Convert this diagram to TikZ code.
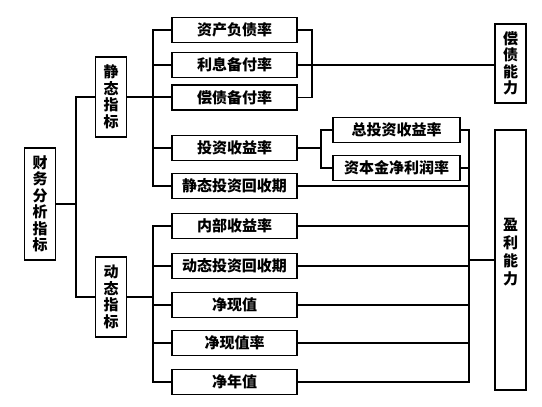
\documentclass[tikz,border=0pt]{standalone}
\usepackage{fontspec}
\newfontfamily\cjk{Noto Sans CJK SC}
\begin{document}
\begin{tikzpicture}[x=1pt,y=-1pt,
  box/.style={draw,line width=1.6pt,inner sep=0pt,font=\cjk\bfseries\fontsize{15}{16.5}\selectfont},
  hbox/.style={box,minimum width=125pt,minimum height=25pt},
  vbox/.style={box,align=center,minimum width=31pt},
  conn/.style={line width=1.1pt}]
\useasboundingbox (0,0) rectangle (542,407);
% left tree
\node[vbox,minimum height=112pt] (cw) at (40,204) {财\\务\\分\\析\\指\\标};
\node[vbox,minimum height=80pt] (jt) at (111,97) {静\\态\\指\\标};
\node[vbox,minimum height=80pt] (dt) at (111,297) {动\\态\\指\\标};
% static boxes
\node[hbox] (s1) at (234.5,30) {资产负债率};
\node[hbox] (s2) at (234.5,65) {利息备付率};
\node[hbox] (s3) at (234.5,97.5) {偿债备付率};
\node[hbox] (s4) at (234.5,148) {投资收益率};
\node[hbox] (s5) at (234.5,186) {静态投资回收期};
% dynamic boxes
\node[hbox] (d1) at (234.5,226) {内部收益率};
\node[hbox] (d2) at (234.5,266) {动态投资回收期};
\node[hbox] (d3) at (234.5,305) {净现值};
\node[hbox] (d4) at (234.5,343) {净现值率};
\node[hbox] (d5) at (234.5,382) {净年值};
% sub boxes
\node[hbox,minimum width=127pt] (t1) at (396.5,130) {总投资收益率};
\node[hbox,minimum width=127pt] (t2) at (396.5,168) {资本金净利润率};
% right boxes
\node[vbox,minimum height=79pt] (cz) at (510.5,63.5) {偿\\债\\能\\力};
\node[vbox,minimum height=260pt] (yl) at (510.5,260) {};
\node[font=\cjk\bfseries\fontsize{15}{18}\selectfont,align=center,inner sep=0pt] (ylt) at (510.5,252) {盈\\利\\能\\力};
% bus coordinates
\coordinate (tk) at (76,0);
\coordinate (sb) at (153,0);
\coordinate (rb) at (312,0);
\coordinate (ib) at (321,0);
\coordinate (pb) at (469,0);
% connectors left
\draw[conn] (cw.east) -- (cw.east -| tk);
\draw[conn] (jt.west) -| (tk |- dt.west) -- (dt.west);
\draw[conn] (jt.east) -- (jt.east -| s3.west);
\draw[conn] (s1.west) -- (s1.west -| sb) |- (s5.west);
\draw[conn] (s2.west) -- (s2.west -| sb);
\draw[conn] (s4.west) -- (s4.west -| sb);
\draw[conn] (dt.east) -- (dt.east -| sb);
\draw[conn] (d1.west) -- (d1.west -| sb) |- (d5.west);
\draw[conn] (d2.west) -- (d2.west -| sb);
\draw[conn] (d3.west) -- (d3.west -| sb);
\draw[conn] (d4.west) -- (d4.west -| sb);
% connectors right
\draw[conn] (s1.east) -| (rb |- s3.east) -- (s3.east);
\draw[conn] (s2.east) -- (s2.east -| cz.west);
\draw[conn] (s4.east) -- (s4.east -| ib);
\draw[conn] (t1.west) -| (ib |- t2.west) -- (t2.west);
\draw[conn] (t1.east) -| (pb |- d5.east) -- (d5.east);
\draw[conn] (t2.east) -- (t2.east -| pb);
\draw[conn] (s5.east) -- (s5.east -| pb);
\draw[conn] (d1.east) -- (d1.east -| pb);
\draw[conn] (d2.east) -- (d2.east -| pb);
\draw[conn] (d3.east) -- (d3.east -| pb);
\draw[conn] (d4.east) -- (d4.east -| pb);
\draw[conn] (yl.west) -- (yl.west -| pb);
\end{tikzpicture}
\end{document}
